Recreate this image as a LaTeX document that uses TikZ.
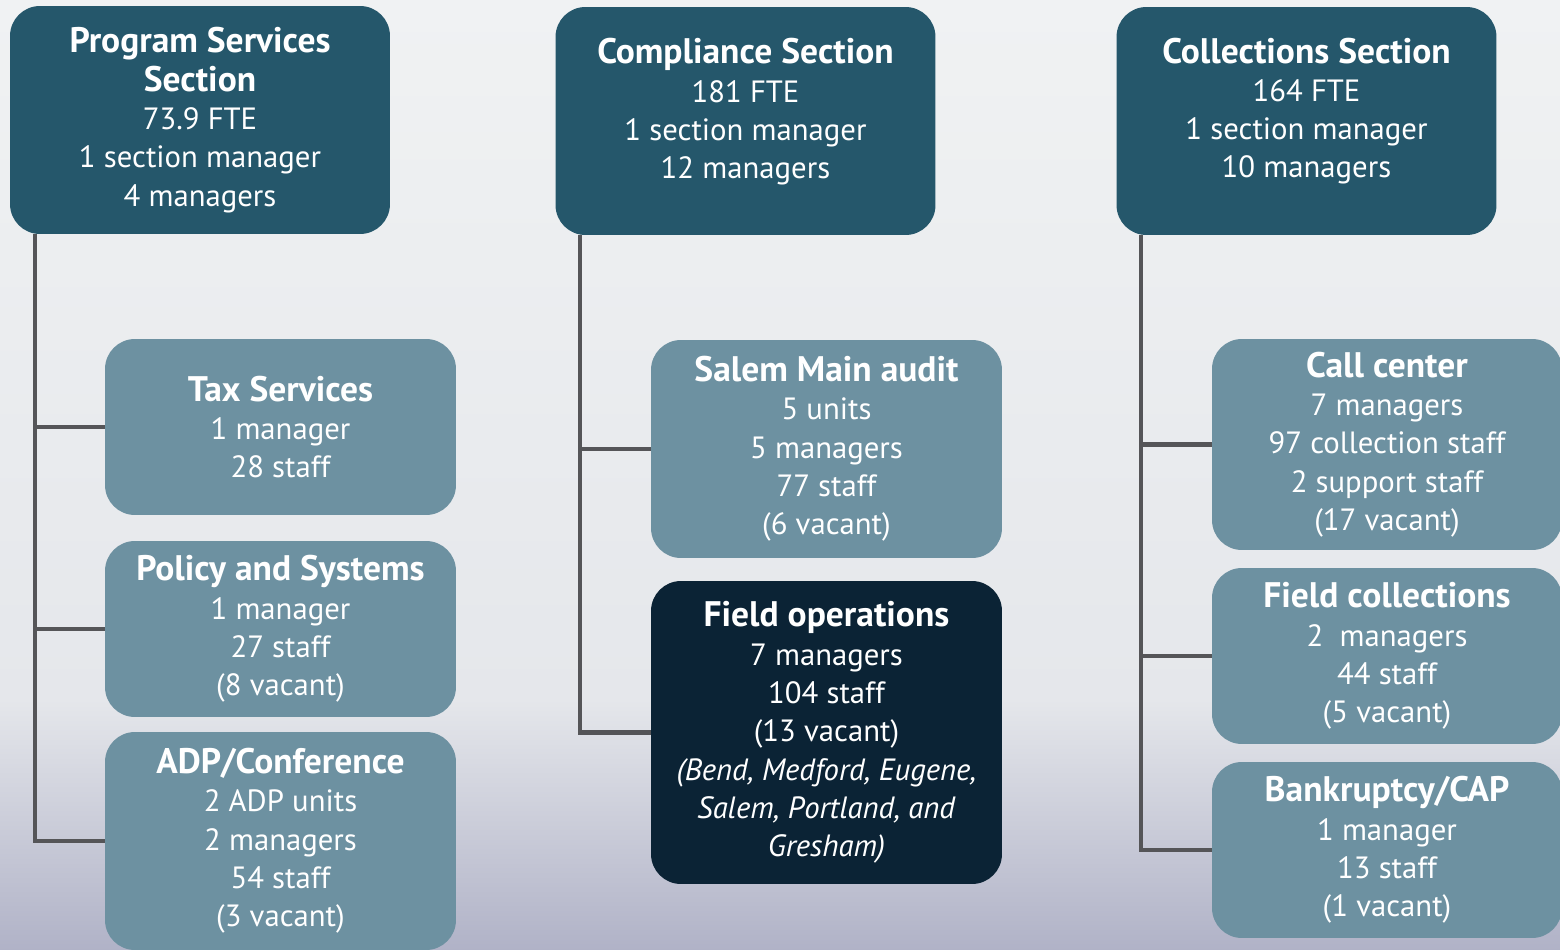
\documentclass[tikz,border=0pt]{standalone}
\usepackage{fontspec}
\setmainfont{PT Sans}
\usepackage{tikz}
\usepackage{xcolor}
\usetikzlibrary{positioning, backgrounds}
\definecolor{secblue}{RGB}{37, 87, 107}
\definecolor{unitblue}{RGB}{109, 145, 161}
\definecolor{fieldnavy}{RGB}{11, 35, 53}
\definecolor{linkgray}{RGB}{85, 85, 88}
\definecolor{bgtop}{RGB}{240, 242, 243}
\definecolor{bgmid}{RGB}{229, 231, 235}
\definecolor{bgbot}{RGB}{176, 178, 199}
\newcommand{\hd}[1]{{\fontsize{20.2}{23}\selectfont\bfseries #1}}

\begin{document}
\begin{tikzpicture}[x=0.02cm,y=-0.02cm,
          box/.style={rectangle,rounded corners=17pt,text=white,align=center,
                      inner sep=0pt,font=\fontsize{17.5}{21.8}\selectfont},
          section/.style={box,fill=secblue,minimum width=7.6cm,minimum height=4.56cm},
          unit/.style={box,fill=unitblue,minimum width=7.02cm,minimum height=3.52cm},
          link/.style={draw=linkgray,line width=2.4pt,line join=miter}]
        \useasboundingbox (0,0) rectangle (1560,950);
        \clip (0,0) rectangle (1560,950);

        % sections
        \node[section](ps) at (200,120){
          \hd{Program Services}\\\hd{Section}\\73.9 FTE\\
          1 section manager\\4 managers};
        \node[section,text depth=14pt](comp) at (745.5,121){
          \hd{Compliance Section}\\181 FTE\\1 section manager\\12 managers};
        \node[section,text depth=15pt](coll) at (1306.5,121){
          \hd{Collections Section}\\164 FTE\\1 section manager\\10 managers};

        % program services units
        \node[unit](tax) at (280.5,427){
          \hd{Tax Services}\\1 manager\\28 staff};
        \node[unit](pol) at (280.5,629){
          \hd{Policy and Systems}\\1 manager\\27 staff\\(8 vacant)};
        \node[unit,minimum height=4.36cm](adp) at (280.5,841){
          \hd{ADP/Conference}\\2 ADP units\\2 managers\\54 staff\\(3 vacant)};

        % compliance units
        \node[unit,minimum height=4.36cm](salem) at (826.5,449){
          \hd{Salem Main audit}\\5 units\\5 managers\\77 staff\\(6 vacant)};
        \node[unit,fill=fieldnavy,minimum height=6.06cm](fops) at (826.5,732.5){
          \hd{Field operations}\\7 managers\\104 staff\\(13 vacant)\\
          \textit{(Bend, Medford, Eugene,}\\\textit{Salem, Portland, and}\\
          \textit{Gresham)}};

        % collections units
        \node[unit,minimum width=7cm,minimum height=4.22cm](call) at (1387,444.5){
          \hd{Call center}\\7 managers\\97 collection staff\\
          2 support staff\\(17 vacant)};
        \node[unit,minimum width=7cm](fcoll) at (1387,656){
          \hd{Field collections}\\2\ \ managers\\44 staff\\(5 vacant)};
        \node[unit,minimum width=7cm](bank) at (1387,850){
          \hd{Bankruptcy/CAP}\\1 manager\\13 staff\\(1 vacant)};

        \begin{pgfonlayer}{background}
          % page shading
          \shade[top color=bgtop,bottom color=bgmid] (0,0) rectangle (1560,700);
          \shade[top color=bgmid,bottom color=bgbot] (0,699) rectangle (1560,951);
          % tree links
          \foreach \p/\c in {ps/tax,ps/pol,ps/adp,comp/salem,comp/fops,
                             coll/call,coll/fcoll,coll/bank}
            \draw[link] (\p.south west) ++(25,0) |- (\c.west);
        \end{pgfonlayer}
      \end{tikzpicture}
\end{document}
